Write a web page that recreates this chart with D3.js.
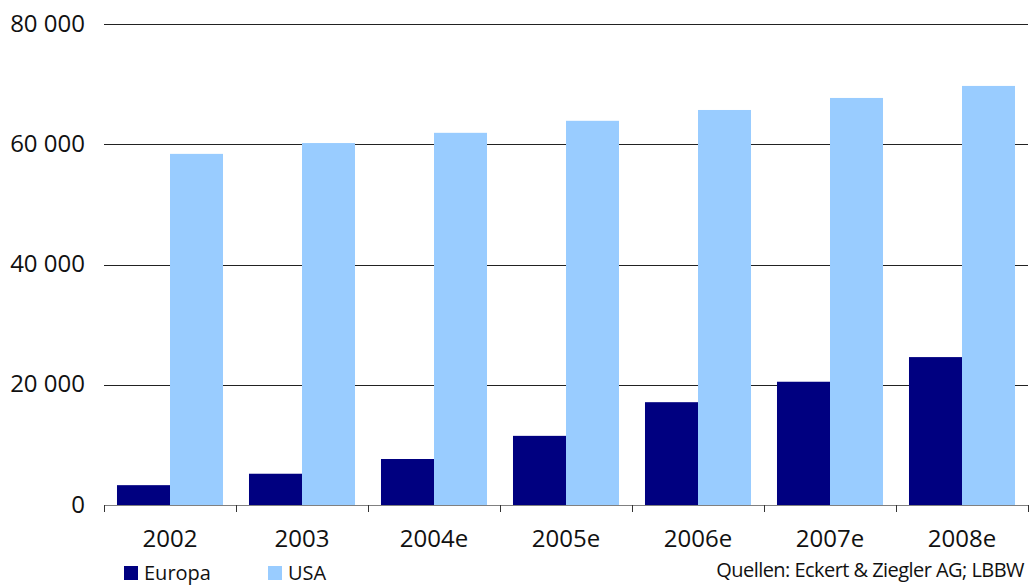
<!DOCTYPE html>
<html>
<head>
<meta charset="utf-8">
<script src="https://cdn.jsdelivr.net/npm/d3@7"></script>
<style>
  html, body { margin: 0; padding: 0; background: #fff; }
  svg { display: block; }
  text { font-family: "Open Sans", "Noto Sans", sans-serif; fill: #111; }
</style>
</head>
<body>
<svg id="chart" width="1034" height="586"></svg>
<script>
// Categories (years, e = estimate)
const years = ["2002", "2003", "2004e", "2005e", "2006e", "2007e", "2008e"];
// Series
const seriesNames = ["Europa", "USA"];
const europa = [3300, 5200, 7650, 11500, 17100, 20500, 24600];
const usa = [58400, 60200, 61900, 63900, 65700, 67700, 69700];
// Y-axis ticks
const yTicks = [0, 20000, 40000, 60000, 80000];
const source = "Quellen: Eckert & Ziegler AG; LBBW";

const colors = { Europa: "#000080", USA: "#99CCFF" };

const svg = d3.select("#chart");
const plotLeft = 104, plotRight = 1028, plotTop = 24, plotBottom = 505;

const x0 = d3.scaleBand().domain(years).range([plotLeft, plotRight]).paddingInner(0).paddingOuter(0);
const x1 = d3.scaleBand().domain(seriesNames).range([0, x0.bandwidth()]).paddingInner(0).paddingOuter(0.245);
const y = d3.scaleLinear().domain([0, 80000]).range([plotBottom, plotTop]);

const fmt = v => d3.format(",")(v).replace(/,/g, " ");

// Horizontal gridlines
svg.append("g")
  .selectAll("line")
  .data(yTicks.filter(t => t > 0))
  .join("line")
  .attr("x1", plotLeft).attr("x2", plotRight)
  .attr("y1", d => Math.round(y(d)) + 0.5)
  .attr("y2", d => Math.round(y(d)) + 0.5)
  .attr("stroke", "#222")
  .attr("stroke-width", 1);

// Y tick labels
svg.append("g")
  .selectAll("text")
  .data(yTicks)
  .join("text")
  .attr("x", 85)
  .attr("y", d => y(d))
  .attr("dy", "0.32em")
  .attr("text-anchor", "end")
  .attr("font-size", 24)
  .text(fmt);

// Bars
const rows = years.map((yr, i) => ({ year: yr, Europa: europa[i], USA: usa[i] }));
const groups = svg.append("g")
  .selectAll("g")
  .data(rows)
  .join("g")
  .attr("transform", d => `translate(${x0(d.year)},0)`);

groups.selectAll("rect")
  .data(d => seriesNames.map(k => ({ key: k, value: d[k] })))
  .join("rect")
  .attr("x", d => x1(d.key))
  .attr("width", x1.bandwidth())
  .attr("y", d => y(d.value))
  .attr("height", d => y(0) - y(d.value))
  .attr("fill", d => colors[d.key]);

// X axis
const xAxis = svg.append("g").attr("transform", `translate(0,${plotBottom})`);
xAxis.append("line")
  .attr("x1", plotLeft).attr("x2", plotRight)
  .attr("y1", 0.5).attr("y2", 0.5)
  .attr("stroke", "#808080");
xAxis.selectAll("line.tick")
  .data(d3.range(years.length + 1))
  .join("line")
  .attr("class", "tick")
  .attr("x1", i => Math.round(plotLeft + i * x0.step()) + 0.5)
  .attr("x2", i => Math.round(plotLeft + i * x0.step()) + 0.5)
  .attr("y1", 0).attr("y2", 7)
  .attr("stroke", "#333");
xAxis.selectAll("text")
  .data(years)
  .join("text")
  .attr("x", d => x0(d) + x0.bandwidth() / 2)
  .attr("y", 42)
  .attr("text-anchor", "middle")
  .attr("font-size", 24)
  .text(d => d);

// Legend
const legend = svg.append("g");
const legendX = [124, 268];
seriesNames.forEach((name, i) => {
  legend.append("rect")
    .attr("x", legendX[i]).attr("y", 566)
    .attr("width", 14).attr("height", 14)
    .attr("fill", colors[name]);
  legend.append("text")
    .attr("x", legendX[i] + 20).attr("y", 580)
    .attr("font-size", 20)
    .text(name);
});

// Source note
svg.append("text")
  .attr("x", 1024).attr("y", 577)
  .attr("text-anchor", "end")
  .attr("font-size", 20)
  .attr("letter-spacing", "-0.55px")
  .text(source);
</script>
</body>
</html>
